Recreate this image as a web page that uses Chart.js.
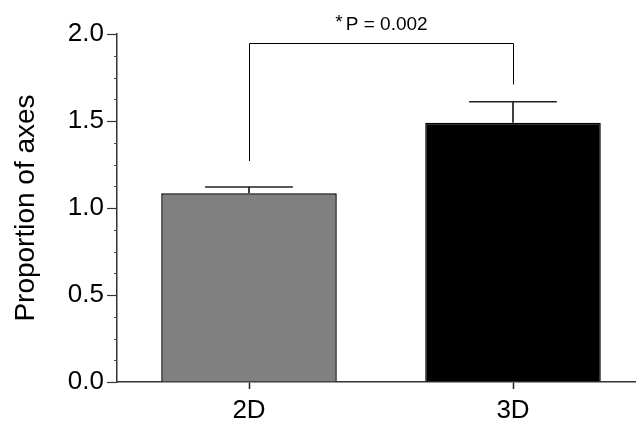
<!DOCTYPE html>
<html lang="en">
<head>
  <meta charset="UTF-8" />
  <title>Proportion of axes</title>
  <script src="https://cdn.jsdelivr.net/npm/chart.js"></script>
  <style>
    body { margin: 0; background: #fff; overflow: hidden; }
    .wrap { width: 636px; height: 423px; overflow: hidden; }
    canvas { display: block; }
  </style>
</head>
<body>
  <div class="wrap">
    <canvas id="chart" width="660" height="423"></canvas>
  </div>

  <script>
    // data
    const groups = ['2D', '3D'];
    const means = [1.085, 1.49];
    const sems = [0.035, 0.12];
    const barColors = ['#808080', '#000000'];
    const yTicks = [0, 0.5, 1.0, 1.5, 2.0];
    const bracketTop = 1.95;
    const bracketEnds = [1.27, 1.71];
    const starText = '*';
    const pText = 'P = 0.002';

    const FONT = "'Liberation Sans', Arial, sans-serif";

    function line(ctx, x1, y1, x2, y2) {
      ctx.beginPath();
      ctx.moveTo(x1, y1);
      ctx.lineTo(x2, y2);
      ctx.stroke();
    }

    const extras = {
      id: 'extras',
      afterDatasetsDraw(chart) {
        const { ctx, scales: { x, y } } = chart;
        const meta = chart.getDatasetMeta(0);
        ctx.save();
        ctx.strokeStyle = '#000';

        // error bars (upper only)
        meta.data.forEach((bar, i) => {
          const top = y.getPixelForValue(means[i] + sems[i]);
          const half = bar.width / 4;
          ctx.lineWidth = 1.5;
          line(ctx, bar.x, bar.y, bar.x, top);
          ctx.strokeStyle = '#222';
          line(ctx, bar.x - half, top, bar.x + half, top);
          ctx.strokeStyle = '#000';
        });

        // minor ticks on y axis
        ctx.strokeStyle = '#444';
        ctx.lineWidth = 1;
        const ax = y.right;
        const step = (yTicks[1] - yTicks[0]) / 4;
        for (let k = 0; k <= (yTicks.length - 1) * 4; k++) {
          if (k % 4 === 0) continue;
          const py = Math.round(y.getPixelForValue(k * step)) + 0.5;
          line(ctx, ax - 3, py, ax, py);
        }

        // significance bracket
        ctx.strokeStyle = '#000';
        ctx.lineWidth = 1;
        const xa = Math.round(x.getPixelForValue(0)) + 0.5;
        const xb = Math.round(x.getPixelForValue(1)) + 0.5;
        const yt = Math.round(y.getPixelForValue(bracketTop)) + 0.5;
        ctx.beginPath();
        ctx.moveTo(xa, y.getPixelForValue(bracketEnds[0]));
        ctx.lineTo(xa, yt);
        ctx.lineTo(xb, yt);
        ctx.lineTo(xb, y.getPixelForValue(bracketEnds[1]));
        ctx.stroke();

        ctx.fillStyle = '#000';
        ctx.font = '19px ' + FONT;
        ctx.textBaseline = 'alphabetic';
        const ws = ctx.measureText(starText).width;
        const wp = ctx.measureText(pText).width;
        const start = (xa + xb) / 2 - (ws + 3 + wp) / 2;
        ctx.fillText(starText, start, yt - 16);
        ctx.fillText(pText, start + ws + 3, yt - 14);
        ctx.restore();
      }
    };

    new Chart(document.getElementById('chart'), {
      type: 'bar',
      data: {
        labels: groups,
        datasets: [{
          data: means,
          backgroundColor: barColors,
          borderColor: '#000',
          borderWidth: 1.5,
          barPercentage: 0.665,
          categoryPercentage: 1
        }]
      },
      options: {
        responsive: false,
        animation: false,
        layout: { padding: { left: 0, top: 34, right: 15, bottom: 0 } },
        plugins: { legend: { display: false }, tooltip: { enabled: false } },
        scales: {
          x: {
            offset: true,
            afterFit: s => { s.height = 41; },
            grid: { offset: false, drawOnChartArea: false, tickLength: 7, color: '#222', tickWidth: 1.5 },
            border: { color: '#333', width: 1.5 },
            ticks: { color: '#000', padding: 6, font: { size: 26, family: FONT } }
          },
          y: {
            min: 0,
            max: 2,
            afterFit: s => { s.width = 117; },
            afterBuildTicks: s => { s.ticks = yTicks.map(v => ({ value: v })); },
            grid: { drawOnChartArea: false, tickLength: 10, color: '#333', tickWidth: 1.2 },
            border: { color: '#333', width: 1.5 },
            ticks: {
              color: '#000',
              padding: 3,
              font: { size: 26, family: FONT },
              callback: v => Number(v).toFixed(1)
            },
            title: {
              display: true,
              text: 'Proportion of axes',
              color: '#000',
              padding: { top: 9, bottom: 0 },
              font: { size: 28, family: FONT }
            }
          }
        }
      },
      plugins: [extras]
    });
  </script>
</body>
</html>
